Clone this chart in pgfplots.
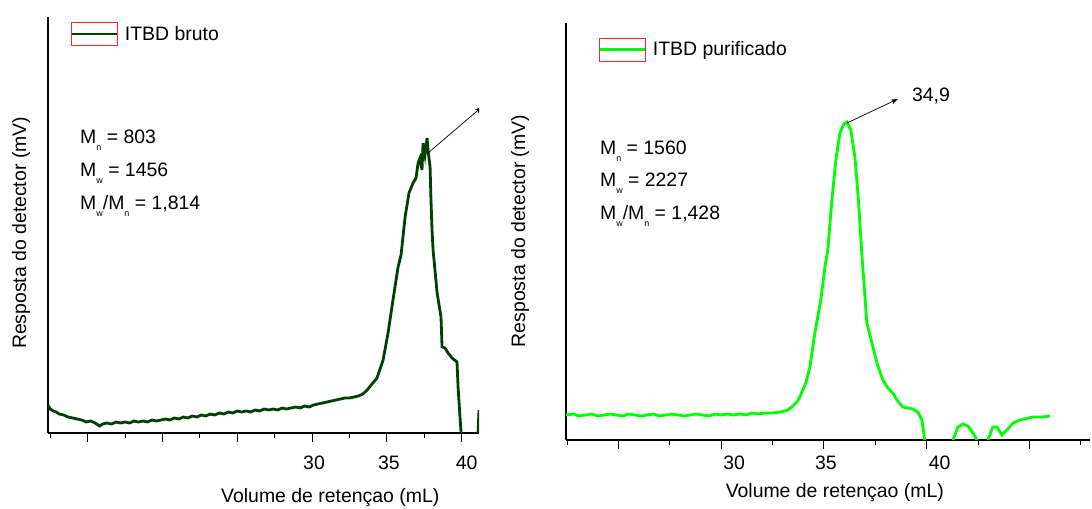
\documentclass[border=0pt]{standalone}
\usepackage{fontspec}
\setmainfont{Liberation Sans}
\usepackage{pgfplots}
\pgfplotsset{compat=1.18}
\usetikzlibrary{arrows.meta}
\definecolor{dkgreen}{RGB}{0,64,0}
\definecolor{lgreen}{RGB}{0,255,0}
\definecolor{legred}{RGB}{255,40,40}
\newcommand{\sub}[1]{\raisebox{-7bp}{\fontsize{9}{9}\selectfont #1}}
\newcommand{\mainfs}{\fontsize{19.5}{23}\selectfont}
\pgfplotsset{
  gpcstyle/.style={
    scale only axis,
    axis lines*=left,
    axis line style={black, line width=1.1bp},
    ymin=0, ytick=\empty,
    tick align=outside,
    major tick length=9bp, minor tick length=5bp,
    tick style={black, line width=1bp},
    /pgf/number format/assume math mode=true,
    font=\mainfs,
    tick label style={font=\mainfs},
    label style={font=\mainfs},
    xlabel={Volume de retençao (mL)},
    ylabel={Resposta do detector (mV)},
    legend image code/.code={
      \draw[##1] (0bp,0bp) -- (46bp,0bp);
      \draw[draw=legred, line width=1.3bp, fill=none] (0bp,-11.5bp) rectangle (46bp,11.5bp);
    },
    legend style={draw=none, fill=none, inner sep=0pt, font=\mainfs, anchor=west,
      /tikz/every odd column/.append style={column sep=4bp}},
  }
}
\begin{document}
\begin{tikzpicture}
\useasboundingbox (0,0) rectangle (1092bp,509bp);
% ---------------- left: ITBD bruto ----------------
\begin{axis}[gpcstyle, at={(48bp,76bp)}, anchor=south west,
  width=431bp, height=416bp,
  xmin=12.35, xmax=41.16, ymax=416,
  xtick={15,20,25,30,35,40}, xticklabels={,,,30,35,\hspace*{6bp}40},
  minor xtick={12.5,17.5,22.5,27.5,32.5,37.5},
  xticklabel style={anchor=center, xshift=2bp, yshift=-20.5bp},
  x label style={at={(axis description cs:0.655,-0.154)}, anchor=center},
  y label style={at={(axis description cs:-0.0626,0.481)}, anchor=center},
  legend style={at={(axis description cs:0.051,0.959)}},
]
\addplot[dkgreen, line width=2.8bp] coordinates {
(12.35,28) (12.5,24) (12.7,22) (12.9,21) (13.1,19) (13.4,18) (13.7,16) (14.0,15)
(14.3,14) (14.6,13) (14.9,11) (15.2,12) (15.5,10) (15.8,7) (16.0,9) (16.3,10)
(16.6,9) (16.9,11) (17.2,10) (17.5,11) (17.8,10) (18.1,12) (18.4,11) (18.7,12)
(19.0,11) (19.3,13) (19.6,12) (19.9,13) (20.2,14) (20.5,13) (20.8,15) (21.1,14)
(21.4,16) (21.7,15) (22.0,17) (22.3,16) (22.6,18) (22.9,17) (23.2,19) (23.5,18)
(23.8,20) (24.1,19) (24.4,21) (24.7,20) (25.0,22) (25.3,21) (25.6,22) (25.9,21)
(26.2,23) (26.5,22) (26.8,24) (27.1,23) (27.4,24) (27.7,23) (28.0,25) (28.3,24)
(28.6,25) (28.9,26) (29.2,25) (29.5,27) (29.8,26) (30.1,28) (30.4,29) (30.7,30)
(31.0,31) (31.3,32) (31.6,33) (31.9,34) (32.2,35) (32.5,35) (32.8,36) (33.1,37)
(33.4,39) (33.68,43) (34.34,55) (34.75,73) (35.08,100) (35.41,133) (35.75,166)
(35.95,178) (36.22,216) (36.48,240) (36.75,250) (36.95,255) (37.09,270) (37.22,275)
(37.35,263) (37.42,290) (37.55,278) (37.69,295) (37.75,283) (37.89,266) (37.95,233)
(38.02,203) (38.09,183) (38.36,140) (38.62,116) (38.69,86) (38.89,85) (39.09,80)
(39.36,75) (39.69,71) (39.76,46) (39.89,16) (39.96,1) (40.03,-37) (41.03,-37)
(41.10,1) (41.16,23)
};
\addlegendentry{ITBD bruto}
\draw[black, line width=0.7bp, -{Stealth[length=7bp,width=5bp]}]
  (axis cs:37.75,280) -- (axis cs:41.35,326);
\node[anchor=base west, inner sep=0pt] at (axis cs:14.49,289) {M\sub{n} = 803};
\node[anchor=base west, inner sep=0pt] at (axis cs:14.49,256) {M\sub{w} = 1456};
\node[anchor=base west, inner sep=0pt] at (axis cs:14.49,223) {M\sub{w}/M\sub{n} = 1,814};
\end{axis}
% ---------------- right: ITBD purificado ----------------
\begin{axis}[gpcstyle, at={(566bp,69bp)}, anchor=south west,
  width=524bp, height=417bp,
  xmin=22.45, xmax=47.95, ymax=417,
  xtick={25,30,35,40,45}, xticklabels={,\hspace*{22bp}30,35,\hspace*{22bp}40,},
  minor xtick={22.5,27.5,32.5,37.5,42.5,47.5},
  xticklabel style={anchor=center, xshift=2bp, yshift=-13.5bp},
  x label style={at={(axis description cs:0.513,-0.127)}, anchor=center},
  y label style={at={(axis description cs:-0.0878,0.501)}, anchor=center},
  legend style={at={(axis description cs:0.061,0.936)}},
]
\addplot[lgreen, line width=2.8bp] coordinates {
(22.45,25) (22.8,26) (23.1,24) (23.4,25) (23.7,26) (24.0,24) (24.3,25) (24.6,26)
(24.9,25) (25.2,24) (25.5,26) (25.8,25) (26.1,24) (26.4,25) (26.7,26) (27.0,24)
(27.3,25) (27.6,26) (27.9,25) (28.2,24) (28.5,25) (28.8,26) (29.1,25) (29.4,24)
(29.7,26) (30.0,25) (30.3,26) (30.6,25) (30.9,26) (31.2,25) (31.5,27) (31.8,26)
(32.1,27) (32.4,27) (32.52,27) (32.91,28) (33.25,30) (33.44,33) (33.69,38)
(33.83,43) (34.12,57) (34.32,73) (34.56,107) (34.85,140) (35.05,173) (35.19,190)
(35.39,240) (35.58,280) (35.78,307) (35.97,316) (36.12,318) (36.31,310) (36.51,283)
(36.68,240) (36.85,185) (36.95,157) (37.09,117) (37.34,97) (37.58,77) (37.87,60)
(38.11,52) (38.36,47) (38.55,40) (38.84,33) (39.09,32) (39.33,31) (39.57,28)
(39.77,20) (39.91,0) (40.01,-30) (41.13,-30) (41.28,0) (41.52,13) (41.76,16)
(42.01,14) (42.25,7) (42.45,0) (42.59,-30) (42.83,-30) (42.98,0) (43.22,13)
(43.42,13) (43.66,5) (43.91,10) (44.20,17) (44.54,20) (45.17,23) (45.61,23) (46.00,24)
};
\addlegendentry{ITBD purificado}
\draw[black, line width=0.7bp, -{Stealth[length=7bp,width=5bp]}]
  (axis cs:36.12,317) -- (axis cs:38.60,341);
\node[anchor=base west, inner sep=0pt] at (axis cs:39.28,338) {34,9};
\node[anchor=base west, inner sep=0pt] at (axis cs:24.10,285) {M\sub{n} = 1560};
\node[anchor=base west, inner sep=0pt] at (axis cs:24.10,253) {M\sub{w} = 2227};
\node[anchor=base west, inner sep=0pt] at (axis cs:24.10,220) {M\sub{w}/M\sub{n} = 1,428};
\end{axis}
\end{tikzpicture}
\end{document}
